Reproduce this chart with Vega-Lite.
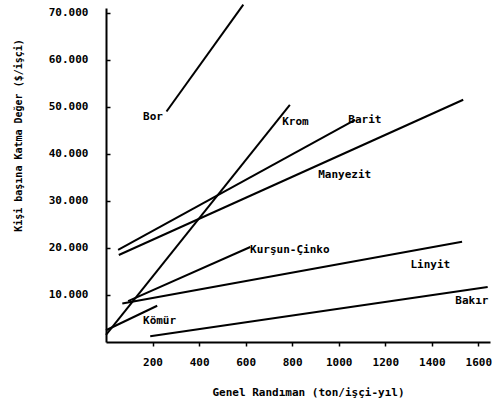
{
  "$schema": "https://vega.github.io/schema/vega-lite/v6.json",
  "autosize": {"type": "none"},
  "width": 384,
  "height": 334,
  "padding": {"left": 106, "top": 8, "right": 6, "bottom": 63},
  "background": "white",
  "config": {"view": {"stroke": null}, "font": "DejaVu Sans Mono"},
  "datasets": {
    "lines": [
      {"mineral": "Bor", "x": 260, "y": 49000},
      {"mineral": "Bor", "x": 590, "y": 71700},
      {"mineral": "Krom", "x": 0, "y": 1500},
      {"mineral": "Krom", "x": 790, "y": 50400},
      {"mineral": "Barit", "x": 52, "y": 19600},
      {"mineral": "Barit", "x": 1070, "y": 47200},
      {"mineral": "Manyezit", "x": 55, "y": 18500},
      {"mineral": "Manyezit", "x": 1535, "y": 51500},
      {"mineral": "Kurşun-Çinko", "x": 95, "y": 8700},
      {"mineral": "Kurşun-Çinko", "x": 620, "y": 20200},
      {"mineral": "Linyit", "x": 70, "y": 8200},
      {"mineral": "Linyit", "x": 1530, "y": 21300},
      {"mineral": "Kömür", "x": 0, "y": 2500},
      {"mineral": "Kömür", "x": 220, "y": 7700},
      {"mineral": "Bakır", "x": 190, "y": 1200},
      {"mineral": "Bakır", "x": 1640, "y": 11700}
    ],
    "labels": [
      {"label": "Bor", "x": 159, "y": 47900},
      {"label": "Krom", "x": 757, "y": 46800},
      {"label": "Barit", "x": 1041, "y": 47200},
      {"label": "Manyezit", "x": 912, "y": 35500},
      {"label": "Kurşun-Çinko", "x": 619, "y": 19600},
      {"label": "Linyit", "x": 1308, "y": 16400},
      {"label": "Bakır", "x": 1501, "y": 8700},
      {"label": "Kömür", "x": 159, "y": 4500}
    ]
  },
  "layer": [
    {
      "data": {"name": "lines"},
      "mark": {"type": "line", "color": "black", "strokeWidth": 2},
      "encoding": {
        "x": {
          "field": "x", "type": "quantitative",
          "scale": {"domain": [0, 1650], "nice": false},
          "axis": {
            "values": [200, 400, 600, 800, 1000, 1200, 1400, 1600],
            "format": "d",
            "grid": false,
            "domainColor": "black", "domainWidth": 2,
            "tickColor": "black", "tickSize": 4, "tickWidth": 1.5,
            "labelFont": "DejaVu Sans Mono", "labelFontWeight": "bold", "labelFontSize": 11, "labelColor": "black",
            "labelPadding": 10,
            "title": "Genel Randıman (ton/işçi-yıl)",
            "titleFont": "DejaVu Sans Mono", "titleFontWeight": "bold", "titleFontSize": 11, "titleColor": "black",
            "titleX": 202, "titleY": 50, "titleAnchor": "middle", "titleBaseline": "middle"
          }
        },
        "y": {
          "field": "y", "type": "quantitative",
          "scale": {"domain": [0, 71000], "nice": false},
          "axis": {
            "values": [10000, 20000, 30000, 40000, 50000, 60000, 70000],
            "labelExpr": "replace(format(datum.value, ','), ',', '.')",
            "grid": false,
            "domainColor": "black", "domainWidth": 2,
            "tickColor": "black", "tickSize": -4, "tickWidth": 1.5,
            "labelFont": "DejaVu Sans Mono", "labelFontWeight": "bold", "labelFontSize": 11, "labelColor": "black",
            "labelPadding": 22,
            "title": "Kişi başına Katma Değer ($/işçi)",
            "titleFont": "DejaVu Sans Mono", "titleFontWeight": "bold", "titleFontSize": 10, "titleColor": "black",
            "titleX": -88, "titleY": 127, "titleAngle": 270, "titleAnchor": "middle", "titleBaseline": "middle"
          }
        },
        "detail": {"field": "mineral"}
      }
    },
    {
      "data": {"name": "labels"},
      "mark": {"type": "text", "align": "left", "baseline": "middle", "font": "DejaVu Sans Mono", "fontWeight": "bold", "fontSize": 11, "color": "black"},
      "encoding": {
        "x": {"field": "x", "type": "quantitative"},
        "y": {"field": "y", "type": "quantitative"},
        "text": {"field": "label"}
      }
    }
  ]
}
